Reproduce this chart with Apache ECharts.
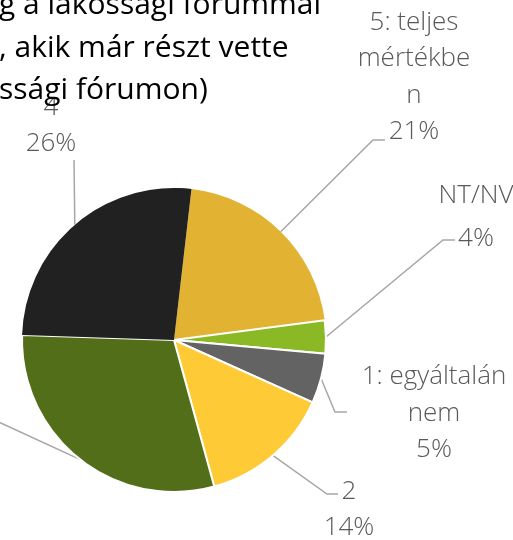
<!DOCTYPE html>
<html>
<head>
<meta charset="utf-8">
<script src="https://cdn.jsdelivr.net/npm/echarts@6/dist/echarts.min.js"></script>
<style>
html,body{margin:0;padding:0;background:#fff;}
#main{width:513px;height:540px;}
</style>
</head>
<body>
<div id="main"></div>
<script>
// Data (clockwise order starting just right of 12 o'clock)
var categories = ['5: teljes mértékben', 'NT/NV', '1: egyáltalán nem', '2', '3', '4'];
var labelTexts = ['5: teljes\nmértékbe\nn', 'NT/NV', '1: egyáltalán\nnem', '2', '3', '4'];
var shares = [21.1, 3.5, 5.3, 14.0, 29.8, 26.3];
var colors = ['#E2B232', '#8AB925', '#636363', '#FECA35', '#526E18', '#212121'];
var titleLines = ['g a lakossági fórummal', ', akik már részt vette', 'ssági fórumon)'];

// Label placement (layout/style only)
var labelPlacement = [
  {x: 414, y: 77, lh: 36.5, line: [[373, 140], [385, 140]]},
  {x: 476, y: 217.4, lh: 43, line: [[443, 240], [455, 240]]},
  {x: 434, y: 413.2, lh: 36.5, line: [[335, 412], [347, 412]]},
  {x: 349, y: 509.6, lh: 36, line: [[327, 494], [338, 494]]},
  {x: -70, y: 400, lh: 36.5, line: [[-20, 413.5]]},
  {x: 51, y: 125.7, lh: 36.5, line: [[74, 160]]}
];
var borderWidths = [0, 2, 2, 2, 2, 0];

var chart = echarts.init(document.getElementById('main'), null, {renderer: 'canvas'});

var data = categories.map(function (c, i) {
  return {
    name: c,
    value: shares[i],
    itemStyle: {color: colors[i], borderColor: '#ffffff', borderWidth: borderWidths[i]},
    label: {lineHeight: labelPlacement[i].lh}
  };
});

chart.setOption({
  animation: false,
  title: {
    text: titleLines.join('\n'),
    left: -1,
    top: -15.5,
    padding: 0,
    textStyle: {
      fontFamily: 'Open Sans',
      fontSize: 30,
      fontWeight: 'normal',
      color: '#000000',
      lineHeight: 42.5
    }
  },
  series: [{
    type: 'pie',
    center: [174, 340],
    radius: 152,
    startAngle: 83.4,
    clockwise: true,
    avoidLabelOverlap: false,
    percentPrecision: 0,
    data: data,
    label: {
      show: true,
      position: 'outside',
      fontFamily: 'Open Sans',
      fontSize: 26,
      fontWeight: 300,
      color: '#595959',
      formatter: function (p) {
        return labelTexts[p.dataIndex] + '\n' + p.percent + '%';
      }
    },
    labelLine: {
      show: true,
      length: 10,
      length2: 10,
      lineStyle: {color: '#A6A6A6', width: 1.5}
    },
    labelLayout: function (p) {
      var L = labelPlacement[p.dataIndex];
      var anchor = p.labelLinePoints ? p.labelLinePoints[0] : null;
      var pts = anchor ? [anchor].concat(L.line) : null;
      var res = {x: L.x, y: L.y, align: 'center', verticalAlign: 'middle'};
      if (pts) res.labelLinePoints = pts;
      return res;
    },
    emphasis: {disabled: true}
  }]
});
</script>
</body>
</html>
